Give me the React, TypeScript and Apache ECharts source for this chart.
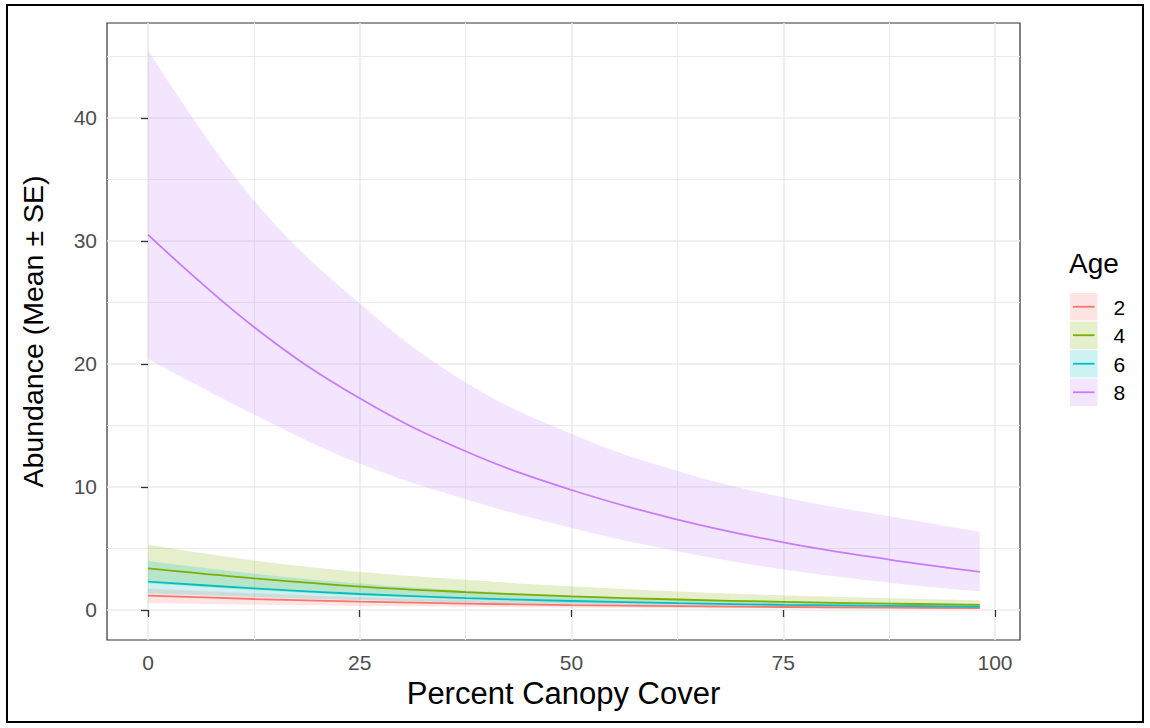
import React, { useEffect, useRef } from "react";
import * as echarts from "echarts";

// Percent canopy cover at which the fitted curves are sampled
const canopyCover = [0, 12.5, 25, 37.5, 50, 62.5, 75, 87.5, 98.2];

// Age classes and their hue palette
const ages = ["2", "4", "6", "8"];
const ageColors = ["#F8766D", "#7CAE00", "#00BFC4", "#C77CFF"];

// Fitted abundance (mean) and the mean ± SE envelope for each age class
const mean2 = [1.17, 0.89, 0.68, 0.52, 0.4, 0.31, 0.24, 0.185, 0.15];
const upper2 = [1.75, 1.36, 1.05, 0.81, 0.63, 0.49, 0.38, 0.3, 0.24];
const lower2 = [0.55, 0.42, 0.32, 0.25, 0.19, 0.15, 0.12, 0.09, 0.07];

const mean4 = [3.38, 2.57, 1.9, 1.45, 1.1, 0.85, 0.66, 0.52, 0.42];
const upper4 = [5.3, 4.03, 3.1, 2.45, 1.92, 1.5, 1.19, 0.95, 0.78];
const lower4 = [2.16, 1.63, 1.18, 0.86, 0.63, 0.48, 0.36, 0.28, 0.23];

const mean6 = [2.3, 1.76, 1.3, 0.97, 0.73, 0.55, 0.42, 0.33, 0.26];
const upper6 = [3.97, 2.95, 2.15, 1.58, 1.17, 0.88, 0.67, 0.52, 0.42];
const lower6 = [1.33, 1.05, 0.79, 0.6, 0.46, 0.35, 0.26, 0.2, 0.16];

const mean8 = [30.5, 23.0, 17.2, 12.9, 9.75, 7.35, 5.5, 4.1, 3.1];
const upper8 = [45.5, 33.3, 24.9, 18.5, 14.3, 11.3, 9.16, 7.62, 6.37];
const lower8 = [20.4, 15.9, 11.9, 9.0, 6.67, 4.78, 3.3, 2.21, 1.51];

// Axis ticks
const xMajorTicks = [0, 25, 50, 75, 100];
const xMinorTicks = [12.5, 37.5, 62.5, 87.5];
const yMajorTicks = [0, 10, 20, 30, 40];
const yMinorTicks = [5, 15, 25, 35, 45];

const means = [mean2, mean4, mean6, mean8];
const uppers = [upper2, upper4, upper6, upper8];
const lowers = [lower2, lower4, lower6, lower8];

const FONT = "'Liberation Sans', Arial, sans-serif";
const RIBBON_ALPHA = 0.2;

function tint(hex: string, a: number): string {
  const n = parseInt(hex.slice(1), 16);
  return `rgba(${n >> 16},${(n >> 8) & 255},${n & 255},${a})`;
}

// Rows are [abundance, cover]; abundance comes first so that stacking
// accumulates along the value (y) dimension.
function rows(ys: number[]): [number, number][] {
  return ys.map((y, i) => [y, canopyCover[i]]);
}

const yFirst = { x: 1, y: 0 };

function buildSeries(): any[] {
  const bands: any[] = [];
  const lines: any[] = [];
  ages.forEach((age, i) => {
    const color = ageColors[i];
    bands.push({
      type: "line",
      name: `lower-${age}`,
      stack: `band-${age}`,
      data: rows(lowers[i]),
      encode: yFirst,
      smooth: 0.4,
      symbol: "none",
      silent: true,
      lineStyle: { opacity: 0 },
    });
    bands.push({
      type: "line",
      name: `band-${age}`,
      stack: `band-${age}`,
      data: rows(uppers[i].map((u, k) => u - lowers[i][k])),
      encode: yFirst,
      smooth: 0.4,
      symbol: "none",
      silent: true,
      lineStyle: { opacity: 0 },
      areaStyle: { color: tint(color, RIBBON_ALPHA), opacity: 1 },
    });
    lines.push({
      type: "line",
      name: age,
      data: rows(means[i]),
      encode: yFirst,
      smooth: 0.4,
      symbol: "none",
      silent: true,
      lineStyle: { color, width: 1.8 },
    });
  });
  return [...bands, ...lines];
}

function buildLegend(): any[] {
  const left = 1070;
  const top = 293;
  const key = 28.5;
  const items: any[] = [
    {
      type: "text",
      x: left - 1,
      y: 263,
      style: {
        text: "Age",
        font: `28px ${FONT}`,
        fill: "#000",
        verticalAlign: "middle",
      },
    },
  ];
  ages.forEach((age, i) => {
    const y = top + i * key;
    items.push({
      type: "rect",
      shape: { x: left, y, width: key - 1, height: key - 1 },
      style: { fill: tint(ageColors[i], RIBBON_ALPHA) },
    });
    items.push({
      type: "line",
      shape: { x1: left + 3, y1: y + key / 2 - 0.5, x2: left + key - 4, y2: y + key / 2 - 0.5 },
      style: { stroke: ageColors[i], lineWidth: 1.8 },
    });
    items.push({
      type: "text",
      x: left + key + 15,
      y: y + key / 2,
      style: {
        text: age,
        font: `21px ${FONT}`,
        fill: "#000",
        verticalAlign: "middle",
      },
    });
  });
  return items;
}

export default function App() {
  const ref = useRef<HTMLDivElement>(null);

  useEffect(() => {
    if (!ref.current) return;
    const chart = echarts.init(ref.current, undefined, { renderer: "svg" });

    const xMin = -4.84;
    const xMax = 102.95;
    const yMin = -2.44;
    const yMax = 47.7;

    const majorGrid = { show: true, lineStyle: { color: "#ebebeb", width: 1.6 } };
    const minorGrid = { show: true, lineStyle: { color: "#ebebeb", width: 1.1 } };

    chart.setOption({
      animation: false,
      backgroundColor: "#fff",
      textStyle: { fontFamily: FONT },
      grid: {
        left: 107,
        top: 23,
        width: 913,
        height: 617,
        show: true,
        borderColor: "#333",
        borderWidth: 1.2,
        backgroundColor: "transparent",
      },
      xAxis: [
        {
          type: "value",
          min: xMin,
          max: xMax,
          name: "Percent Canopy Cover",
          nameLocation: "middle",
          nameGap: 36,
          nameTextStyle: { fontSize: 31, color: "#000", fontFamily: FONT },
          axisLine: { show: false },
          axisTick: {
            show: true,
            length: 7,
            customValues: xMajorTicks,
            lineStyle: { color: "#333", width: 1.3 },
          },
          axisLabel: {
            customValues: xMajorTicks,
            fontSize: 21,
            color: "#4d4d4d",
            margin: 12,
            fontFamily: FONT,
          },
          splitLine: majorGrid,
          z: 1,
        },
        {
          type: "value",
          min: xMin,
          max: xMax,
          position: "bottom",
          axisLine: { show: false },
          axisTick: { show: false, customValues: xMinorTicks },
          axisLabel: { show: false, customValues: xMinorTicks },
          splitLine: minorGrid,
          z: 0,
        },
      ],
      yAxis: [
        {
          type: "value",
          min: yMin,
          max: yMax,
          name: "Abundance (Mean ± SE)",
          nameLocation: "middle",
          nameGap: 60,
          nameRotate: 90,
          nameTextStyle: { fontSize: 28.5, color: "#000", fontFamily: FONT },
          axisLine: { show: false },
          axisTick: {
            show: true,
            length: 7,
            customValues: yMajorTicks,
            lineStyle: { color: "#333", width: 1.3 },
          },
          axisLabel: {
            customValues: yMajorTicks,
            fontSize: 21,
            color: "#4d4d4d",
            margin: 10,
            fontFamily: FONT,
          },
          splitLine: majorGrid,
          z: 1,
        },
        {
          type: "value",
          min: yMin,
          max: yMax,
          position: "left",
          axisLine: { show: false },
          axisTick: { show: false, customValues: yMinorTicks },
          axisLabel: { show: false, customValues: yMinorTicks },
          splitLine: minorGrid,
          z: 0,
        },
      ],
      series: buildSeries(),
      graphic: [
        {
          type: "rect",
          shape: { x: 7, y: 5, width: 1136, height: 717 },
          style: { fill: "none", stroke: "#000", lineWidth: 2 },
          silent: true,
        },
        ...buildLegend(),
      ],
    });

    return () => chart.dispose();
  }, []);

  return (
    <div
      ref={ref}
      style={{ position: "absolute", left: 0, top: 0, width: 1150, height: 728 }}
    />
  );
}
